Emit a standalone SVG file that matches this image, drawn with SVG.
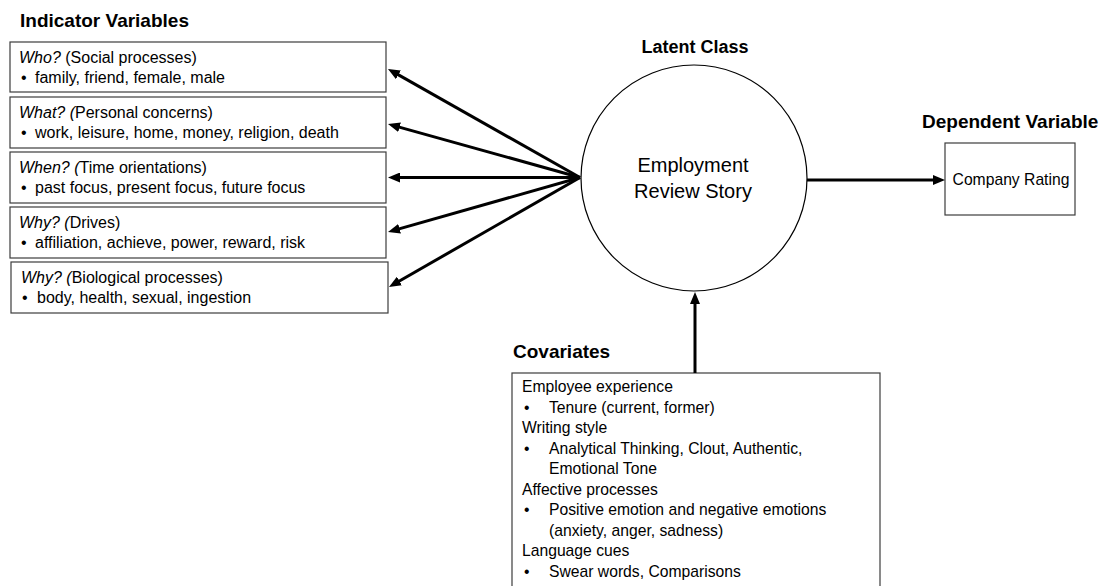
<svg xmlns="http://www.w3.org/2000/svg" width="1106" height="586" viewBox="0 0 1106 586">
<defs>
<style>
text{font-family:"Liberation Sans",Arial,sans-serif;fill:#000}
.t{font-size:19px;font-weight:bold}
.b{font-size:16px}
.v{font-size:15.7px}
.c{font-size:20px}
.box{fill:#fff;stroke:#3c3c3c;stroke-width:1.2}
.conn{stroke:#000;stroke-width:3;fill:none;marker-end:url(#ah)}
.it{font-style:italic}
</style>
<marker id="ah" viewBox="0 0 12 10" refX="6" refY="5" markerWidth="12" markerHeight="10" markerUnits="userSpaceOnUse" orient="auto">
<path d="M0,0 L12,5 L0,10 z" fill="#000"/>
</marker>
</defs>
<rect width="1106" height="586" fill="#fff"/>

<text class="t" x="20" y="27">Indicator Variables</text>
<text class="t" x="695" y="53" text-anchor="middle" style="font-size:18px">Latent Class</text>
<text class="t" x="922" y="128">Dependent Variable</text>
<text class="t" x="513" y="358">Covariates</text>

<g id="who">
<rect class="box" x="10" y="42" width="376" height="50"/>
<text class="b" x="19" y="63"><tspan class="it">Who?</tspan> (Social processes)</text>
<text class="b" x="21" y="83">•</text>
<text class="b" x="35" y="83">family, friend, female, male</text>
</g>
<g id="what">
<rect class="box" x="10" y="97" width="376" height="51"/>
<text class="b" x="19" y="118"><tspan class="it">What? (</tspan>Personal concerns)</text>
<text class="b" x="21" y="138">•</text>
<text class="b" x="35" y="138">work, leisure, home, money, religion, death</text>
</g>
<g id="when">
<rect class="box" x="10" y="152" width="376" height="51"/>
<text class="b" x="19" y="173"><tspan class="it">When? (</tspan>Time orientations)</text>
<text class="b" x="21" y="193">•</text>
<text class="b" x="35" y="193">past focus, present focus, future focus</text>
</g>
<g id="why-drives">
<rect class="box" x="10" y="207" width="376" height="51"/>
<text class="b" x="19" y="228"><tspan class="it">Why? (</tspan>Drives)</text>
<text class="b" x="21" y="248">•</text>
<text class="b" x="35" y="248">affiliation, achieve, power, reward, risk</text>
</g>
<g id="why-bio">
<rect class="box" x="11" y="262" width="377" height="51"/>
<text class="b" x="21" y="283"><tspan class="it">Why? (</tspan>Biological processes)</text>
<text class="b" x="22" y="303">•</text>
<text class="b" x="37" y="303">body, health, sexual, ingestion</text>
</g>

<g id="latent">
<circle cx="694" cy="178" r="113" fill="#fff" stroke="#000" stroke-width="1.2"/>
<text class="c" x="693" y="172" text-anchor="middle">Employment</text>
<text class="c" x="693" y="198" text-anchor="middle">Review Story</text>
</g>

<g id="dependent">
<rect class="box" x="945" y="143" width="130" height="72"/>
<text class="v" x="1011" y="185" text-anchor="middle">Company Rating</text>
</g>

<g id="covariates">
<rect class="box" x="512" y="373" width="368" height="240"/>
<text class="v" x="522" y="392">Employee experience</text>
<text class="v" x="524" y="412.5">•</text>
<text class="v" x="549" y="412.5">Tenure (current, former)</text>
<text class="v" x="522" y="433">Writing style</text>
<text class="v" x="524" y="453.5">•</text>
<text class="v" x="549" y="453.5">Analytical Thinking, Clout, Authentic,</text>
<text class="v" x="549" y="474">Emotional Tone</text>
<text class="v" x="522" y="495">Affective processes</text>
<text class="v" x="524" y="515">•</text>
<text class="v" x="549" y="515">Positive emotion and negative emotions</text>
<text class="v" x="549" y="536">(anxiety, anger, sadness)</text>
<text class="v" x="522" y="556">Language cues</text>
<text class="v" x="524" y="577">•</text>
<text class="v" x="549" y="577">Swear words, Comparisons</text>
</g>

<g id="connectors">
<line class="conn" x1="580" y1="177.5" x2="393.2" y2="71.9"/>
<line class="conn" x1="580" y1="177.5" x2="393.8" y2="125.6"/>
<line class="conn" x1="580" y1="177.5" x2="394" y2="177.5"/>
<line class="conn" x1="580" y1="177.5" x2="393.8" y2="230.4"/>
<line class="conn" x1="580" y1="177.5" x2="394.2" y2="284"/>
<line class="conn" x1="807" y1="180" x2="939" y2="180"/>
<line class="conn" x1="695" y1="373" x2="695" y2="298"/>
</g>
</svg>
